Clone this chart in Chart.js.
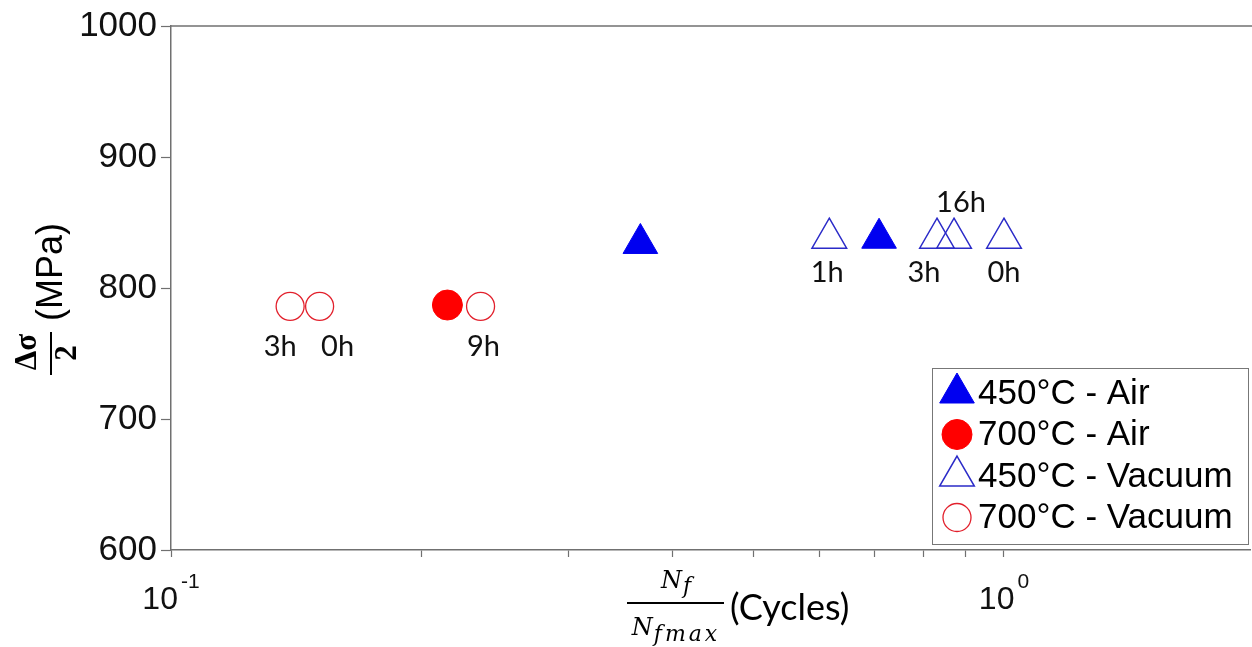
<!DOCTYPE html>
<html>
<head>
<meta charset="utf-8">
<script src="https://cdn.jsdelivr.net/npm/chart.js@4.4.0/dist/chart.umd.min.js"></script>
<style>
  html, body { margin: 0; padding: 0; background: #fff; }
  #c { display: block; }
</style>
</head>
<body>
<canvas id="c" width="1252" height="647"></canvas>
<script>
// values
const air450X = [0.366, 0.708];
const air450Y = [834, 838];
const air700X = [0.2147];
const air700Y = [787];
const vac450X = [0.617, 0.831, 0.871, 1.0];
const vac450Y = [838, 838, 838, 838];
const vac450Tags = ['1h', '3h', '16h', '0h'];
const vac700X = [0.139, 0.1508, 0.2353];
const vac700Y = [786, 786, 786];
const vac700Tags = ['3h', '0h', '9h'];

const seriesNames = ['450°C - Air', '700°C - Air', '450°C - Vacuum', '700°C - Vacuum'];
const xTickVals = [0.1, 0.2, 0.3, 0.4, 0.5, 0.6, 0.7, 0.8, 0.9, 1];
const xMajorVals = [0.1, 1];
const xMajorExp = ['-1', '0'];
const yTickVals = [600, 700, 800, 900, 1000];

// tag placement relative to its marker, px
const vac450TagOff = [[-2, 34], [-13, 34], [7, -36], [0, 34]];
const vac700TagOff = [[-10, 40], [18, 40], [3, 40]];

const AXIS = '#707070';
const SANS = '"Liberation Sans", Arial, sans-serif';
const pts = (xs, ys) => xs.map((x, i) => ({ x: x, y: ys[i] }));

function marker(ctx, ds, x, y) {
  ctx.fillStyle = ds.backgroundColor;
  ctx.strokeStyle = ds.borderColor;
  ctx.lineWidth = ds.borderWidth;
  if (Chart.helpers && Chart.helpers.drawPoint) {
    Chart.helpers.drawPoint(ctx, { pointStyle: ds.pointStyle, radius: ds.pointRadius, borderWidth: ds.borderWidth, rotation: 0 }, x, y);
    return;
  }
  ctx.beginPath();
  if (ds.pointStyle === 'triangle') {
    const r = ds.pointRadius;
    ctx.moveTo(x, y - r);
    ctx.lineTo(x + r * Math.sin(2 * Math.PI / 3), y + r / 2);
    ctx.lineTo(x - r * Math.sin(2 * Math.PI / 3), y + r / 2);
    ctx.closePath();
  } else {
    ctx.arc(x, y, ds.pointRadius, 0, Math.PI * 2);
  }
  ctx.fill();
  ctx.stroke();
}

function subLabel(ctx, main, sub, cx, base, subDrop, spacing) {
  ctx.font = 'italic 24px "DejaVu Serif", serif';
  const w1 = ctx.measureText(main).width;
  ctx.font = 'italic 22px "DejaVu Serif", serif';
  ctx.letterSpacing = spacing + 'px';
  const w2 = ctx.measureText(sub).width;
  const left = cx - (w1 + w2) / 2;
  ctx.letterSpacing = '0px';
  ctx.font = 'italic 24px "DejaVu Serif", serif';
  ctx.fillText(main, left, base);
  ctx.font = 'italic 22px "DejaVu Serif", serif';
  ctx.letterSpacing = spacing + 'px';
  ctx.fillText(sub, left + w1 + 1, base + subDrop);
  ctx.letterSpacing = '0px';
}

const decor = {
  id: 'decor',
  afterDraw(chart) {
    const { ctx, chartArea: a, scales: { x } } = chart;
    ctx.save();

    // top spine
    ctx.strokeStyle = AXIS;
    ctx.lineWidth = 1.5;
    ctx.beginPath();
    ctx.moveTo(a.left, a.top);
    ctx.lineTo(a.right + 2, a.top);
    ctx.stroke();

    // x tick labels 10^n
    ctx.fillStyle = '#111';
    ctx.textAlign = 'left';
    ctx.textBaseline = 'alphabetic';
    xMajorVals.forEach((v, i) => {
      const px = x.getPixelForValue(v);
      ctx.font = '32px ' + SANS;
      const w1 = ctx.measureText('10').width;
      ctx.font = '21px ' + SANS;
      const w2 = ctx.measureText(xMajorExp[i]).width;
      const left = px - (w1 + 3 + w2) / 2;
      ctx.font = '32px ' + SANS;
      ctx.fillText('10', left, 609);
      ctx.font = '21px ' + SANS;
      ctx.fillText(xMajorExp[i], left + w1 + 3, 588);
    });

    // point tags
    ctx.font = '29px Lato, "Open Sans", sans-serif';
    ctx.textAlign = 'center';
    ctx.textBaseline = 'middle';
    ctx.fillStyle = '#111';
    chart.getDatasetMeta(2).data.forEach((el, i) => {
      ctx.fillText(vac450Tags[i], el.x + vac450TagOff[i][0], el.y + vac450TagOff[i][1]);
    });
    chart.getDatasetMeta(3).data.forEach((el, i) => {
      ctx.fillText(vac700Tags[i], el.x + vac700TagOff[i][0], el.y + vac700TagOff[i][1]);
    });

    // x axis title: Nf / Nfmax (Cycles)
    const fx0 = 627, fx1 = 724, fy = 603;
    const fc = (fx0 + fx1) / 2;
    ctx.fillStyle = '#000';
    ctx.fillRect(fx0, fy - 1, fx1 - fx0, 2);
    ctx.textAlign = 'left';
    ctx.textBaseline = 'alphabetic';
    subLabel(ctx, 'N', 'f', fc, 588, 5, 0);
    subLabel(ctx, 'N', 'fmax', fc, 635, 6, 3);
    ctx.font = '36px Lato, "Open Sans", sans-serif';
    ctx.textBaseline = 'middle';
    ctx.fillText('(Cycles)', fx1 + 6, 608);

    // y axis title: Δσ / 2 (MPa), rotated
    ctx.save();
    ctx.translate(52, 272);
    ctx.rotate(-Math.PI / 2);
    ctx.font = '36px ' + SANS;
    ctx.textAlign = 'center';
    ctx.textBaseline = 'middle';
    ctx.fillText('(MPa)', 0, 0);
    ctx.restore();

    ctx.save();
    ctx.translate(51, 353);
    ctx.rotate(-Math.PI / 2);
    ctx.fillRect(-22, -1, 43, 2);
    ctx.font = 'bold 31px "Liberation Serif", "DejaVu Serif", serif';
    ctx.textAlign = 'center';
    ctx.textBaseline = 'alphabetic';
    ctx.fillText('Δσ', 1, -15);
    ctx.fillText('2', 0, 25);
    ctx.restore();

    // legend
    const lx = 932, ly = 368, lw = 316, lh = 176;
    ctx.fillStyle = '#fff';
    ctx.fillRect(lx, ly, lw, lh);
    ctx.strokeStyle = '#777';
    ctx.lineWidth = 1;
    ctx.strokeRect(lx + 0.5, ly + 0.5, lw, lh);
    chart.data.datasets.forEach((ds, i) => {
      const cy = ly + 23 + i * 41.5;
      marker(ctx, ds, 957, cy + 2);
      ctx.fillStyle = '#000';
      ctx.font = '35px ' + SANS;
      ctx.textAlign = 'left';
      ctx.textBaseline = 'alphabetic';
      ctx.fillText(ds.label, 978, cy + 12.5);
    });

    ctx.restore();
  }
};

new Chart(document.getElementById('c'), {
  type: 'scatter',
  data: {
    datasets: [
      { label: seriesNames[0], data: pts(air450X, air450Y), pointStyle: 'triangle', pointRadius: 20,
        backgroundColor: '#0000f0', borderColor: '#0000f0', borderWidth: 1 },
      { label: seriesNames[1], data: pts(air700X, air700Y), pointStyle: 'circle', pointRadius: 15,
        backgroundColor: '#ff0000', borderColor: '#ff0000', borderWidth: 1 },
      { label: seriesNames[2], data: pts(vac450X, vac450Y), pointStyle: 'triangle', pointRadius: 20,
        backgroundColor: 'rgba(0,0,0,0)', borderColor: '#2b2bc8', borderWidth: 1.5 },
      { label: seriesNames[3], data: pts(vac700X, vac700Y), pointStyle: 'circle', pointRadius: 14,
        backgroundColor: 'rgba(0,0,0,0)', borderColor: '#e2202c', borderWidth: 1.3 }
    ]
  },
  options: {
    responsive: false,
    animation: false,
    events: [],
    layout: { autoPadding: false, padding: { top: 26, right: 2, left: 0, bottom: 0 } },
    plugins: { legend: { display: false }, tooltip: { enabled: false } },
    scales: {
      x: {
        type: 'logarithmic',
        min: 0.1,
        max: 1.974,
        afterBuildTicks: s => { s.ticks = xTickVals.map(v => ({ value: v })); },
        ticks: { display: false },
        grid: { drawOnChartArea: false, drawTicks: true, tickLength: 7, tickColor: AXIS, tickWidth: 1.2 },
        border: { display: true, color: AXIS, width: 1.5 },
        afterFit: s => { s.height = 97; }
      },
      y: {
        min: 600,
        max: 1000,
        afterBuildTicks: s => { s.ticks = yTickVals.map(v => ({ value: v })); },
        ticks: { font: { family: SANS, size: 35 }, color: '#111', padding: 4, callback: v => String(v) },
        grid: { drawOnChartArea: false, drawTicks: true, tickLength: 10, tickColor: AXIS, tickWidth: 1.2 },
        border: { display: true, color: AXIS, width: 1.5 },
        afterFit: s => { s.width = 171; }
      }
    }
  },
  plugins: [decor]
});
</script>
</body>
</html>
